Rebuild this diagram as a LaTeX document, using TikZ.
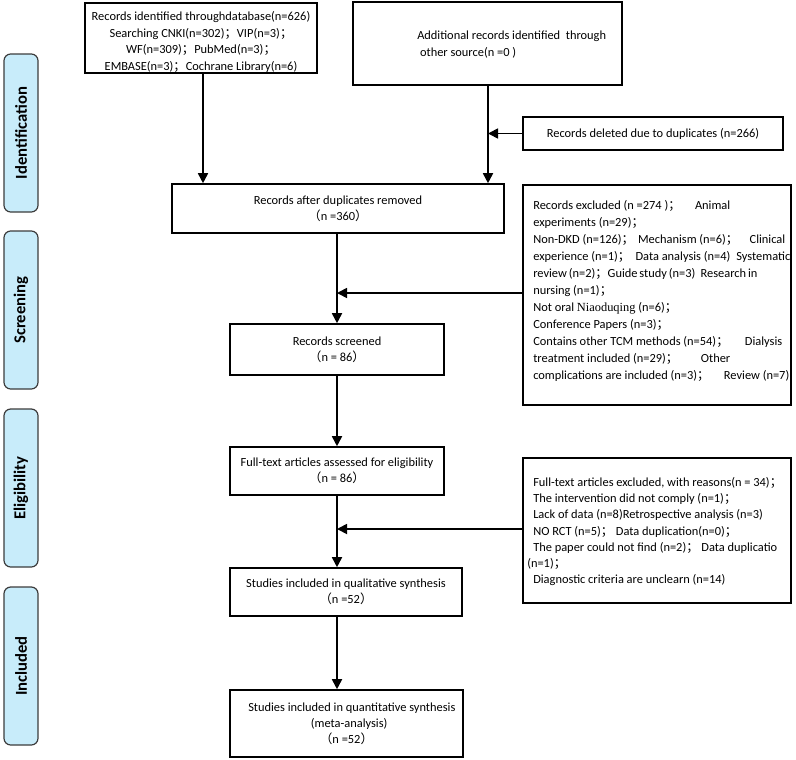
\documentclass[tikz,border=0pt]{standalone}
\usepackage{fontspec}
\setmainfont{Carlito}
\newfontfamily\cjkf{Noto Sans CJK SC}
\newfontfamily\serifnia{Liberation Serif}
\usetikzlibrary{arrows.meta,calc}
\newcommand\myse{{\cjkf ；}}
\newcommand\mylp{{\cjkf （}}
\newcommand\myrp{{\cjkf ）}}
\newcommand\jline[2]{\makebox[#1][s]{#2}}
\definecolor{labfill}{RGB}{200,236,250}
\definecolor{labdraw}{RGB}{60,60,60}
\tikzset{
  pbox/.style n args={2}{draw=black, line width=1.2pt, rectangle, inner sep=0pt,
    minimum width=#1*0.75pt, minimum height=#2*0.75pt, align=center,
    font=\fontsize{9.3pt}{12pt}\selectfont},
  ptext/.style={inner sep=0pt, align=left, font=\fontsize{9.3pt}{12.75pt}\selectfont},
  lab/.style n args={2}{draw=labdraw, fill=labfill, line width=0.9pt, rounded corners=5pt,
    rotate=90, inner sep=0pt, minimum width=#2*0.75pt, minimum height=#1*0.75pt,
    font=\fontsize{12.5pt}{14pt}\selectfont\bfseries},
  arr/.style={draw=black, line width=1.3pt, -{Triangle[length=7.5pt,width=7.5pt]}}
}
\begin{document}
\begin{tikzpicture}[x=0.75pt,y=-0.75pt]
\useasboundingbox (0,0) rectangle (796,760);

% side labels
\node[lab={34}{158}] (L1) at (21,133) {Identification};
\node[lab={34}{158}] (L2) at (21,310) {Screening};
\node[lab={34}{158}] (L3) at (21,488) {Eligibility};
\node[lab={34}{158}] (L4) at (21,666) {Included};

% boxes
\node[pbox={232}{70}] (A) at (201,38) {};
\node[inner sep=0pt, align=center, font=\fontsize{9.3pt}{12.5pt}\selectfont] (At) at (201,42)
  {Records identified throughdatabase(n=626)\\
   Searching CNKI(n=302)\myse VIP(n=3)\myse\\
   WF(n=309)\myse PubMed(n=3)\myse\\
   EMBASE(n=3)\myse Cochrane Library(n=6)};

\node[pbox={269}{83}] (B) at (487.5,43.5) {};
\node[ptext, anchor=north west, font=\fontsize{9.3pt}{12.5pt}\selectfont] (Bt) at (417,31)
  {Additional records identified\ \ through\\
   \ other source(n =0 )};

\node[pbox={260}{33}] (D) at (653,133.5) {Records deleted due to duplicates (n=266)};

\node[pbox={332}{49}] (R) at (338,208.5) {Records after duplicates removed\\ \mylp n =360\myrp};

\node[pbox={268}{220}] (E) at (657,295) {};
\node[ptext, anchor=north west] (Et) at (533,200)
  {\jline{147.75pt}{Records excluded (n =274 )\myse\hfill Animal}\\
   experiments (n=29)\myse\\
   \jline{189pt}{Non-DKD (n=126)\myse\hspace{3pt}Mechanism (n=6)\myse\hfill Clinical}\\
   \jline{192.75pt}{experience (n=1)\myse\hspace{4pt}Data analysis (n=4)\hfill Systematic}\\
   \jline{162.75pt}{review (n=2)\myse\hfill Guide study (n=3)\hspace{4pt}Research in}\\
   nursing (n=1)\myse\\
   Not oral {\serifnia Niaoduqing} (n=6)\myse\\
   Conference Papers (n=3)\myse\\
   \jline{186.75pt}{Contains other TCM methods (n=54)\myse\hfill Dialysis}\\
   \jline{147.75pt}{treatment included (n=29)\myse\hfill Other}\\
   \jline{192pt}{complications are included (n=3)\myse\hfill Review (n=7)}};

\node[pbox={214}{51}] (S) at (337,349.5) {Records screened\\ \mylp n = 86\myrp};

\node[pbox={214}{48}] (F) at (337,471) {Full-text articles assessed for eligibility\\ \mylp n = 86\myrp};

\node[pbox={268}{145}] (X) at (657,530.5) {};
\node[ptext, anchor=north west, font=\fontsize{9.3pt}{12.2pt}\selectfont] (Xt) at (533,477)
  {Full-text articles excluded, with reasons(n = 34)\myse\\
   The intervention did not comply (n=1)\myse\\
   Lack of data (n=8)Retrospective analysis (n=3)\\
   NO RCT (n=5)\myse\hspace{2pt}Data duplication(n=0)\myse\\
   The paper could not find (n=2)\myse\hspace{2pt}Data duplicatio\\
   \hspace*{-4.5pt}(n=1)\myse\\
   Diagnostic criteria are unclearn (n=14)};

\node[pbox={232}{48}] (Q1) at (346,592) {Studies included in qualitative synthesis\\ \mylp n =52\myrp};

\node[pbox={233}{67}] (Q2) at (346.5,723.5) {\hspace*{8pt}Studies included in quantitative synthesis\\ \hspace*{4pt}(meta-analysis)\\ \mylp n =52\myrp};

% connectors
\coordinate (a1) at (203,73);
\draw[arr] (A.south -| a1) -- (a1 |- R.north);
\coordinate (b1) at (488,85);
\draw[arr] (B.south -| b1) -- (b1 |- R.north);
\draw[arr] (D.west) -- (D.west -| b1);

\coordinate (c1) at (337,293);
\draw[arr] (R.south -| c1) -- (S.north -| c1);
\draw[arr] (E.west |- c1) -- (c1);

\draw[arr] (S.south) -- (F.north);

\coordinate (c2) at (337,529);
\draw[arr] (F.south -| c2) -- (Q1.north -| c2);
\draw[arr] (X.west |- c2) -- (c2);

\draw[arr] (Q1.south -| c2) -- (Q2.north -| c2);
\end{tikzpicture}
\end{document}
